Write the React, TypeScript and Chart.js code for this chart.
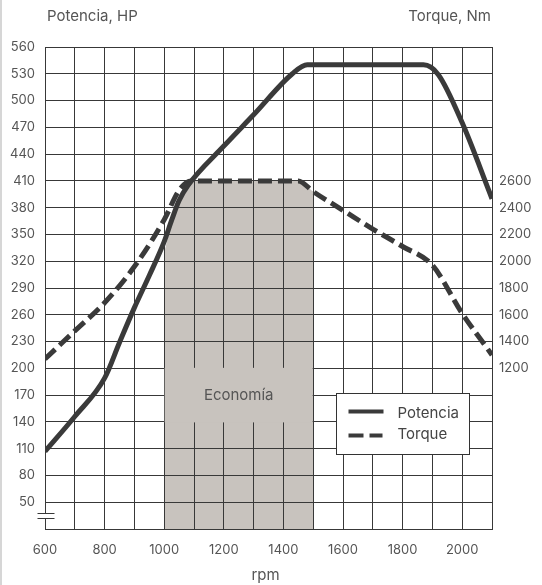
import { useEffect, useRef } from "react"
import { Chart, registerables } from "chart.js"

Chart.register(...registerables)

// Potencia (HP) against rpm
const powerRpm = [600, 700, 800, 850, 900, 950, 1000, 1025, 1050, 1080, 1200, 1300, 1430, 1480, 1870, 1920, 2000, 2100]
const powerHp = [107, 146, 189, 229, 268, 304, 342, 366, 388, 405, 449, 484, 530, 540, 540, 529, 475, 390]

// Torque (Nm) against rpm
const torqueRpm = [600, 700, 800, 900, 1000, 1050, 1090, 1450, 1500, 1600, 1700, 1800, 1900, 2000, 2100]
const torqueNm = [1270, 1480, 1690, 1960, 2310, 2530, 2600, 2600, 2520, 2380, 2240, 2110, 1970, 1610, 1300]

// Economía band: upper edge in HP
const economyRpm = [1000, 1025, 1050, 1080, 1100, 1450, 1500]
const economyHp = [330, 362, 386, 405, 410, 410, 398]

// tick labels
const rpmLabels = [600, 800, 1000, 1200, 1400, 1600, 1800, 2000]
const torqueLabels = [1200, 1400, 1600, 1800, 2000, 2200, 2400, 2600]

const INK = "#3a3a3a"
const GRID = "#383838"
const TEXT = "#555"
const BAND = "#c8c3be"
const FONT = "Inter, 'Noto Sans', sans-serif"

const decorations = {
    id: "decorations",
    beforeDatasetsDraw(chart: any) {
        const { ctx, scales } = chart
        const x = scales.x
        const y = scales.y
        // label box of the economy band hides the grid
        const left = x.getPixelForValue(1000)
        const right = x.getPixelForValue(1500)
        const top = y.getPixelForValue(200)
        const bottom = y.getPixelForValue(140)
        ctx.save()
        ctx.fillStyle = BAND
        ctx.fillRect(left + 0.5, top - 0.5, right - left - 1, bottom - top + 1)
        ctx.fillStyle = TEXT
        ctx.font = `15px ${FONT}`
        ctx.textAlign = "center"
        ctx.textBaseline = "middle"
        ctx.fillText("Economía", (left + right) / 2, (top + bottom) / 2)
        ctx.restore()
    },
    afterDraw(chart: any) {
        const { ctx, chartArea } = chart
        ctx.save()
        // axis titles
        ctx.fillStyle = TEXT
        ctx.font = `15px ${FONT}`
        ctx.textBaseline = "middle"
        ctx.textAlign = "left"
        ctx.fillText("Potencia, HP", chartArea.left + 2, 16)
        ctx.textAlign = "right"
        ctx.fillText("Torque, Nm", chartArea.right - 1, 16)
        ctx.textAlign = "center"
        ctx.fillText("rpm", (chartArea.left + chartArea.right) / 2 - 3, 575)

        // axis break mark
        const ax = Math.round(chartArea.left) + 0.5
        const by = chartArea.bottom - 16
        ctx.fillStyle = "#fff"
        ctx.fillRect(ax - 2, by, 4, 5)
        ctx.strokeStyle = GRID
        ctx.lineWidth = 1
        ctx.beginPath()
        ctx.moveTo(ax - 8, by + 0.5)
        ctx.lineTo(ax + 9, by + 0.5)
        ctx.moveTo(ax - 8, by + 5.5)
        ctx.lineTo(ax + 9, by + 5.5)
        ctx.stroke()

        // legend
        const lx = Math.round(chartArea.right - 156) + 0.5
        const ly = Math.round(chartArea.bottom - 136) + 0.5
        ctx.fillStyle = "#fff"
        ctx.fillRect(lx, ly, 133, 61)
        ctx.strokeStyle = "#333"
        ctx.lineWidth = 1
        ctx.strokeRect(lx, ly, 133, 61)
        ctx.strokeStyle = INK
        ctx.lineWidth = 4
        ctx.beginPath()
        ctx.moveTo(lx + 12, ly + 18)
        ctx.lineTo(lx + 47, ly + 18)
        ctx.stroke()
        ctx.setLineDash([15, 6])
        ctx.beginPath()
        ctx.moveTo(lx + 12, ly + 42)
        ctx.lineTo(lx + 46, ly + 42)
        ctx.stroke()
        ctx.setLineDash([])
        ctx.fillStyle = "#444"
        ctx.font = `15px ${FONT}`
        ctx.textAlign = "left"
        ctx.textBaseline = "middle"
        ctx.fillText("Potencia", lx + 61, ly + 20)
        ctx.fillText("Torque", lx + 61, ly + 41)
        ctx.restore()
    },
}

export default function App() {
    const chartRef = useRef<HTMLCanvasElement>(null)
    const chartInstance = useRef<Chart | null>(null)

    useEffect(() => {
        document.body.style.margin = "0"
        if (!chartRef.current) return
        if (chartInstance.current) chartInstance.current.destroy()
        const ctx = chartRef.current.getContext("2d")
        if (!ctx) return

        chartInstance.current = new Chart(ctx, {
            type: "line",
            data: {
                datasets: [
                    {
                        label: "Potencia",
                        data: powerRpm.map((r, i) => ({ x: r, y: powerHp[i] })),
                        borderColor: INK,
                        borderWidth: 5,
                        pointRadius: 0,
                        fill: false,
                        cubicInterpolationMode: "monotone",
                        yAxisID: "y",
                    },
                    {
                        label: "Torque",
                        data: torqueRpm.map((r, i) => ({ x: r, y: torqueNm[i] })),
                        borderColor: INK,
                        borderWidth: 5,
                        borderDash: [14, 6],
                        pointRadius: 0,
                        fill: false,
                        cubicInterpolationMode: "monotone",
                        yAxisID: "y1",
                    },
                    {
                        label: "Economía",
                        data: economyRpm.map((r, i) => ({ x: r, y: economyHp[i] })),
                        borderColor: "rgba(0,0,0,0)",
                        borderWidth: 0,
                        backgroundColor: BAND,
                        pointRadius: 0,
                        fill: "start",
                        cubicInterpolationMode: "monotone",
                        yAxisID: "y",
                    },
                ],
            },
            options: {
                animation: false,
                responsive: true,
                maintainAspectRatio: false,
                layout: { padding: { top: 47, left: 0, right: 0, bottom: 0 } },
                plugins: {
                    legend: { display: false },
                    tooltip: { enabled: false },
                    filler: { drawTime: "beforeDraw" },
                },
                scales: {
                    x: {
                        type: "linear",
                        min: 600,
                        max: 2100,
                        ticks: {
                            stepSize: 100,
                            autoSkip: false,
                            maxRotation: 0,
                            padding: 13,
                            color: TEXT,
                            font: { family: FONT, size: 13 },
                            callback: (v: any) => (rpmLabels.includes(Number(v)) ? String(v) : ""),
                        },
                        grid: { color: GRID, drawTicks: false },
                        border: { color: GRID },
                        afterFit: (s: any) => {
                            s.height = 56
                        },
                    },
                    y: {
                        position: "left",
                        min: 20,
                        max: 560,
                        ticks: {
                            stepSize: 30,
                            autoSkip: false,
                            padding: 10,
                            color: TEXT,
                            font: { family: FONT, size: 13 },
                            callback: (v: any) => (Number(v) === 20 ? "" : String(v)),
                        },
                        grid: { color: GRID, drawTicks: false },
                        border: { color: GRID },
                        afterFit: (s: any) => {
                            s.width = 45
                        },
                    },
                    y1: {
                        position: "right",
                        min: 0,
                        max: 3600,
                        ticks: {
                            stepSize: 200,
                            autoSkip: false,
                            padding: 7,
                            color: TEXT,
                            font: { family: FONT, size: 13 },
                            callback: (v: any) => (torqueLabels.includes(Number(v)) ? String(v) : ""),
                        },
                        grid: { display: false, drawTicks: false },
                        border: { color: GRID },
                        afterFit: (s: any) => {
                            s.width = 50
                        },
                    },
                },
            },
            plugins: [decorations],
        })

        return () => {
            if (chartInstance.current) {
                chartInstance.current.destroy()
                chartInstance.current = null
            }
        }
    }, [])

    return (
        <div style={{ position: "relative", width: "542px", height: "585px", background: "#fff" }}>
            <div style={{ position: "absolute", left: 0, top: 0, width: "2px", height: "585px", background: "#d6d6d6" }} />
            <canvas ref={chartRef}></canvas>
        </div>
    )
}
